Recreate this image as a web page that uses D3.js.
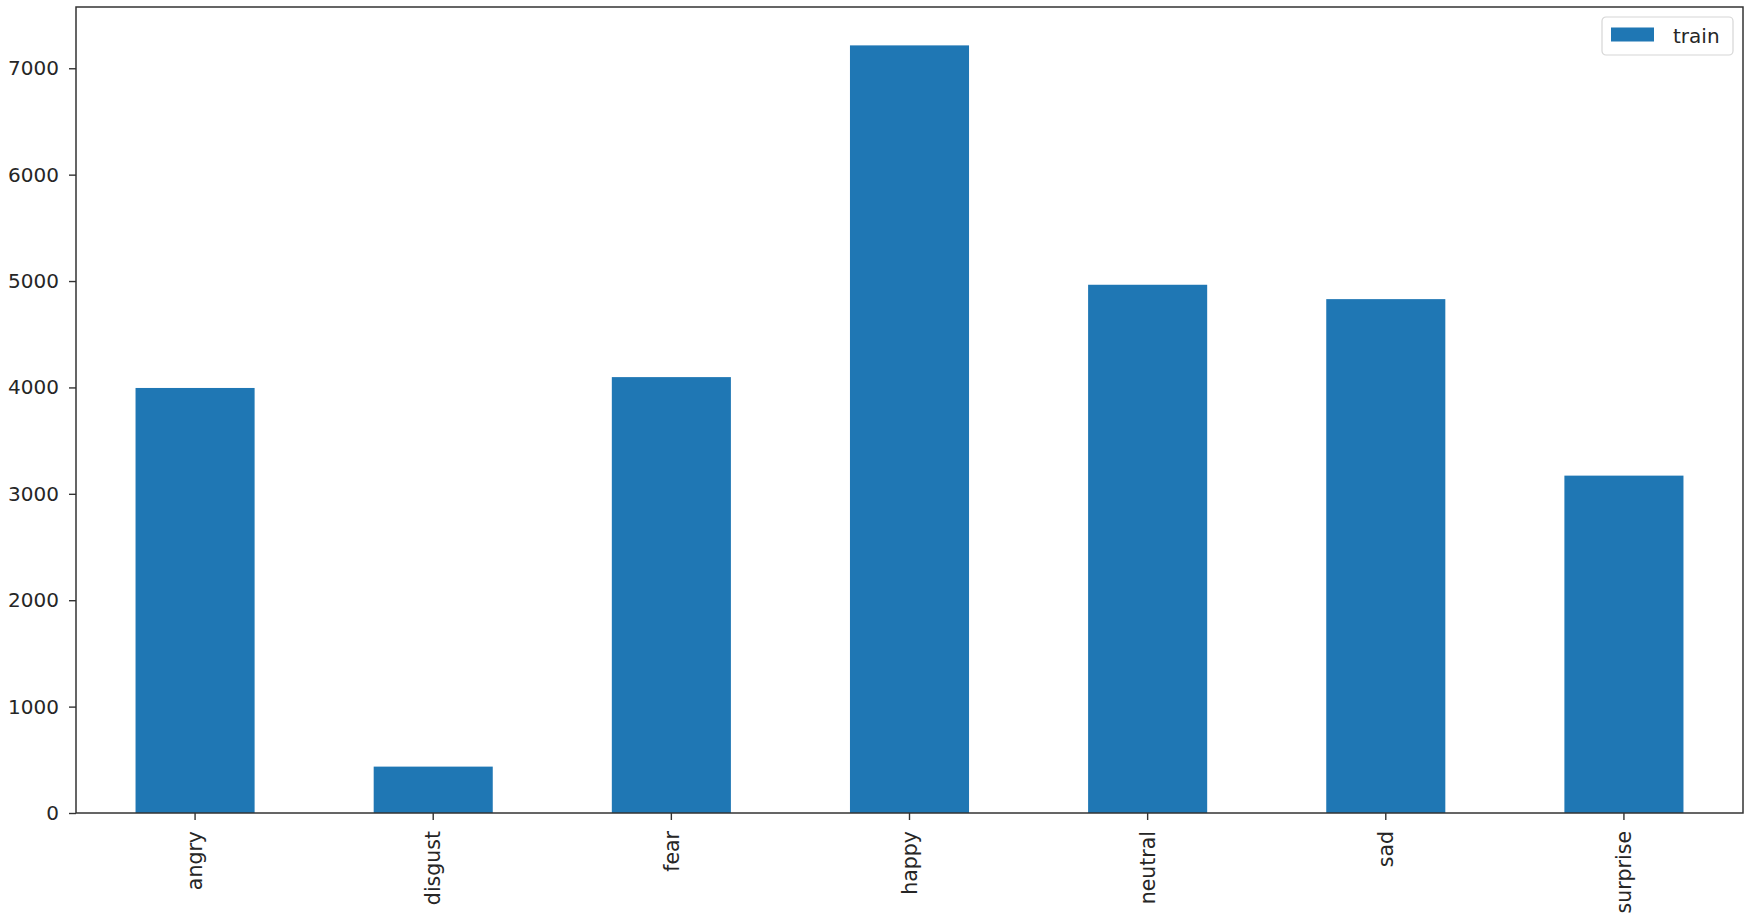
<!DOCTYPE html>
<html>
<head>
<meta charset="utf-8">
<script src="https://cdn.jsdelivr.net/npm/d3@7"></script>
<style>
  html, body { margin: 0; padding: 0; background: #fff; }
  svg { display: block; }
  text { font-family: "DejaVu Sans", sans-serif; fill: #262626; }
</style>
</head>
<body>
<svg id="chart" width="1750" height="922"></svg>
<script>
const categories = ["angry", "disgust", "fear", "happy", "neutral", "sad", "surprise"];
const trainValues = [3995, 436, 4097, 7215, 4965, 4830, 3171];
const yTicks = [0, 1000, 2000, 3000, 4000, 5000, 6000, 7000];
const seriesName = "train";

const W = 1750, H = 922;
const margin = { left: 76, right: 7, top: 7, bottom: 109 };
const svg = d3.select("#chart");
const iw = W - margin.left - margin.right;
const ih = H - margin.top - margin.bottom;
const g = svg.append("g").attr("transform", `translate(${margin.left},${margin.top})`);

const x = d3.scaleBand().domain(categories).range([0, iw]).paddingInner(0.5).paddingOuter(0.25);
const yMax = d3.max(trainValues) * 1.05;
const y = d3.scaleLinear().domain([0, yMax]).range([ih, 0]);

// bars
g.selectAll("rect.bar").data(categories).enter().append("rect")
  .attr("class", "bar")
  .attr("x", d => x(d))
  .attr("width", x.bandwidth())
  .attr("y", (d, i) => y(trainValues[i]))
  .attr("height", (d, i) => ih - y(trainValues[i]))
  .attr("fill", "#1f77b4");

// y axis
const yAxis = g.append("g").call(d3.axisLeft(y).tickValues(yTicks).tickSize(7).tickPadding(10).tickFormat(d3.format("d")));
yAxis.select(".domain").remove();
yAxis.selectAll(".tick line").attr("stroke", "#333").attr("stroke-width", 1.4);
yAxis.selectAll(".tick text").style("font-size", "20px").attr("fill", "#262626");

// x axis
const xAxis = g.append("g").attr("transform", `translate(0,${ih})`).call(d3.axisBottom(x).tickSize(7).tickPadding(0));
xAxis.select(".domain").remove();
xAxis.selectAll(".tick line").attr("stroke", "#333").attr("stroke-width", 1.4);
xAxis.selectAll(".tick text")
  .style("font-size", "20.5px")
  .attr("fill", "#262626")
  .attr("transform", "translate(0,18) rotate(-90)")
  .attr("text-anchor", "end")
  .attr("dy", "0.35em")
  .attr("y", 0)
  .attr("x", 0);

// spines
g.append("rect").attr("x", 0).attr("y", 0).attr("width", iw).attr("height", ih)
  .attr("fill", "none").attr("stroke", "#333").attr("stroke-width", 1.5);

// legend
const lg = svg.append("g").attr("transform", "translate(1602,17)");
lg.append("rect").attr("x", 0).attr("y", 0).attr("width", 131).attr("height", 38)
  .attr("rx", 4).attr("fill", "#fff").attr("stroke", "#d6d6d6").attr("stroke-width", 1.2);
lg.append("rect").attr("x", 9).attr("y", 10.5).attr("width", 43).attr("height", 14).attr("fill", "#1f77b4");
lg.append("text").attr("x", 71).attr("y", 25.5).style("font-size", "20px").text(seriesName);
</script>
</body>
</html>
